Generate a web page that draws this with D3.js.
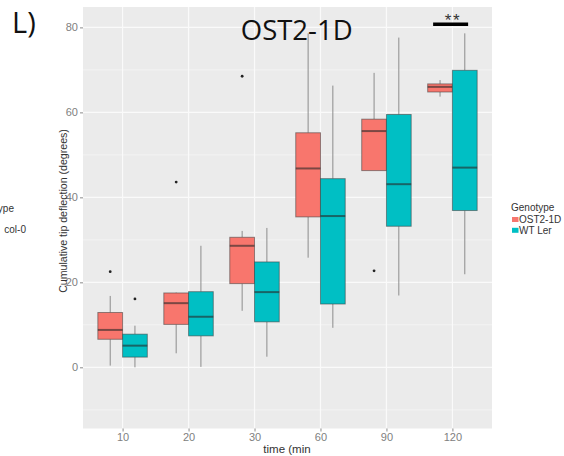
<!DOCTYPE html>
<html>
<head>
<meta charset="utf-8">
<script src="https://cdn.jsdelivr.net/npm/d3@7"></script>
<style>
  html, body { margin: 0; padding: 0; background: #fff; }
  svg { display: block; }
</style>
</head>
<body>
<svg id="chart" width="564" height="456"></svg>
<script>
// Time points (minutes) on the x axis
const categories = ["10", "20", "30", "60", "90", "120"];
const genotypes = ["OST2-1D", "WT Ler"];
const colors = ["#F8766D", "#00BFC4"];

// Box statistics per time point (degrees)
const ostLow    = [0.4, 3.3, 13.3, 25.8, 46.3, 63.7];
const ostQ1     = [6.6, 10.1, 19.7, 35.4, 46.3, 64.8];
const ostMedian = [8.8, 15.1, 28.6, 46.8, 55.6, 66.0];
const ostQ3     = [12.9, 17.5, 30.6, 55.2, 58.4, 66.7];
const ostHigh   = [16.8, 17.6, 32.1, 78.6, 69.3, 67.6];
const ostOutliers = [[22.5], [43.6], [68.5], [], [22.7], []];

const wtLow    = [0.0, 0.1, 2.5, 9.3, 16.9, 21.9];
const wtQ1     = [2.4, 7.4, 10.7, 14.9, 33.2, 36.9];
const wtMedian = [5.1, 11.9, 17.7, 35.6, 43.1, 47.0];
const wtQ3     = [7.8, 17.8, 24.8, 44.4, 59.5, 69.9];
const wtHigh   = [9.8, 28.6, 32.8, 66.3, 77.6, 78.6];
const wtOutliers = [[16.1], [], [], [], [], []];

const yTicks = [0, 20, 40, 60, 80];
const yMinor = [-10, 10, 30, 50, 70];

const series = [
  { name: genotypes[0], low: ostLow, q1: ostQ1, med: ostMedian, q3: ostQ3, high: ostHigh, out: ostOutliers },
  { name: genotypes[1], low: wtLow, q1: wtQ1, med: wtMedian, q3: wtQ3, high: wtHigh, out: wtOutliers }
];

const svg = d3.select("#chart");
const panel = { left: 83, right: 492, top: 7, bottom: 428.5 };

const x = d3.scalePoint().domain(categories).range([panel.left, panel.right]).padding(0.6);
const y = d3.scaleLinear().domain([-14.4, 84.8]).range([panel.bottom, panel.top]);
const step = x.step();
const boxW = step * 0.375;

// panel background + grid
svg.append("rect")
  .attr("x", panel.left).attr("y", panel.top)
  .attr("width", panel.right - panel.left).attr("height", panel.bottom - panel.top)
  .attr("fill", "#EBEBEB");

const grid = svg.append("g");
grid.selectAll("line.minor").data(yMinor).join("line")
  .attr("x1", panel.left).attr("x2", panel.right)
  .attr("y1", d => y(d)).attr("y2", d => y(d))
  .attr("stroke", "#F3F3F3").attr("stroke-width", 1);
grid.selectAll("line.major").data(yTicks).join("line")
  .attr("x1", panel.left).attr("x2", panel.right)
  .attr("y1", d => y(d)).attr("y2", d => y(d))
  .attr("stroke", "#FAFAFA").attr("stroke-width", 1.2);
grid.selectAll("line.vert").data(categories).join("line")
  .attr("x1", d => x(d)).attr("x2", d => x(d))
  .attr("y1", panel.top).attr("y2", panel.bottom)
  .attr("stroke", "#FAFAFA").attr("stroke-width", 1.2);

// boxes
series.forEach((s, si) => {
  const g = svg.append("g");
  const off = (si === 0 ? -1 : 1) * boxW / 2;
  categories.forEach((c, i) => {
    const cx = x(c) + off;
    // whiskers
    g.append("line")
      .attr("x1", cx).attr("x2", cx)
      .attr("y1", y(s.high[i])).attr("y2", y(s.q3[i]))
      .attr("stroke", "#8c8c8c").attr("stroke-width", 1);
    g.append("line")
      .attr("x1", cx).attr("x2", cx)
      .attr("y1", y(s.q1[i])).attr("y2", y(s.low[i]))
      .attr("stroke", "#8c8c8c").attr("stroke-width", 1);
    // box
    g.append("rect")
      .attr("x", cx - boxW / 2).attr("y", y(s.q3[i]))
      .attr("width", boxW).attr("height", Math.max(1, y(s.q1[i]) - y(s.q3[i])))
      .attr("fill", colors[si])
      .attr("stroke", "rgba(60,60,60,0.55)").attr("stroke-width", 1);
    // median
    g.append("line")
      .attr("x1", cx - boxW / 2).attr("x2", cx + boxW / 2)
      .attr("y1", y(s.med[i])).attr("y2", y(s.med[i]))
      .attr("stroke", "rgba(40,40,40,0.6)").attr("stroke-width", 2);
    // outliers
    s.out[i].forEach(v => {
      g.append("circle").attr("cx", cx).attr("cy", y(v)).attr("r", 1.4).attr("fill", "#222");
    });
  });
});

// axes
const axisColor = "#8a8a8a";
const yAxis = svg.append("g")
  .attr("transform", `translate(${panel.left},0)`)
  .call(d3.axisLeft(y).tickValues(yTicks).tickSize(3).tickPadding(2).tickFormat(d3.format("d")));
yAxis.select(".domain").remove();
yAxis.selectAll("line").attr("stroke", axisColor);
yAxis.selectAll("text").attr("fill", "#808080").attr("font-size", 11).attr("font-family", "Liberation Sans, Arial, sans-serif");

const xAxis = svg.append("g")
  .attr("transform", `translate(0,${panel.bottom})`)
  .call(d3.axisBottom(x).tickSize(3).tickPadding(2));
xAxis.select(".domain").remove();
xAxis.selectAll("line").attr("stroke", axisColor);
xAxis.selectAll("text").attr("fill", "#808080").attr("font-size", 11).attr("font-family", "Liberation Sans, Arial, sans-serif");

// axis titles
svg.append("text")
  .attr("x", 287).attr("y", 453)
  .attr("text-anchor", "middle")
  .attr("font-family", "Liberation Sans, Arial, sans-serif").attr("font-size", 11.5)
  .attr("fill", "#333")
  .text("time (min");

svg.append("text")
  .attr("transform", "translate(66.5,211) rotate(-90)")
  .attr("text-anchor", "middle")
  .attr("font-family", "Liberation Sans, Arial, sans-serif").attr("font-size", 10.6)
  .attr("fill", "#333")
  .text("Cumulative tip deflection (degrees)");

// title and panel letter
svg.append("text")
  .attr("x", 296.7).attr("y", 39.5)
  .attr("text-anchor", "middle")
  .attr("font-family", "Open Sans, Liberation Sans, sans-serif").attr("font-size", 27.5)
  .attr("fill", "#111")
  .text("OST2-1D");

svg.append("text")
  .attr("x", 12).attr("y", 33)
  .attr("font-family", "Open Sans, Liberation Sans, sans-serif").attr("font-size", 29)
  .attr("fill", "#111")
  .text("L)");

// significance marker over 120 min
svg.append("line")
  .attr("x1", x("120") - 19.3).attr("x2", x("120") + 15.7)
  .attr("y1", 24.3).attr("y2", 24.3)
  .attr("stroke", "#000").attr("stroke-width", 3.5);
svg.append("text")
  .attr("x", x("120") + 0.5).attr("y", 26)
  .attr("text-anchor", "middle")
  .attr("font-family", "Liberation Sans, Arial, sans-serif").attr("font-size", 17)
  .attr("letter-spacing", 1.5)
  .attr("fill", "#333")
  .text("**");

// legend
const legend = svg.append("g").attr("font-family", "Liberation Sans, Arial, sans-serif").attr("font-size", 10).attr("fill", "#333");
legend.append("text").attr("x", 511).attr("y", 211).text("Genotype");
genotypes.forEach((gname, i) => {
  const ly = 219.5 + i * 10.8;
  legend.append("rect").attr("x", 512).attr("y", ly - 2.5).attr("width", 6.5).attr("height", 5).attr("fill", colors[i]);
  legend.append("text").attr("x", 519).attr("y", ly + 3.5).text(gname);
});

// neighbouring panel's legend, cut off at the left edge
const sideLegend = svg.append("g").attr("font-family", "Liberation Sans, Arial, sans-serif").attr("font-size", 10).attr("fill", "#333");
sideLegend.append("text").attr("x", 14).attr("y", 211.5).attr("text-anchor", "end").text("Genotype");
sideLegend.append("text").attr("x", 26).attr("y", 232.5).attr("text-anchor", "end").text("col-0");
</script>
</body>
</html>
